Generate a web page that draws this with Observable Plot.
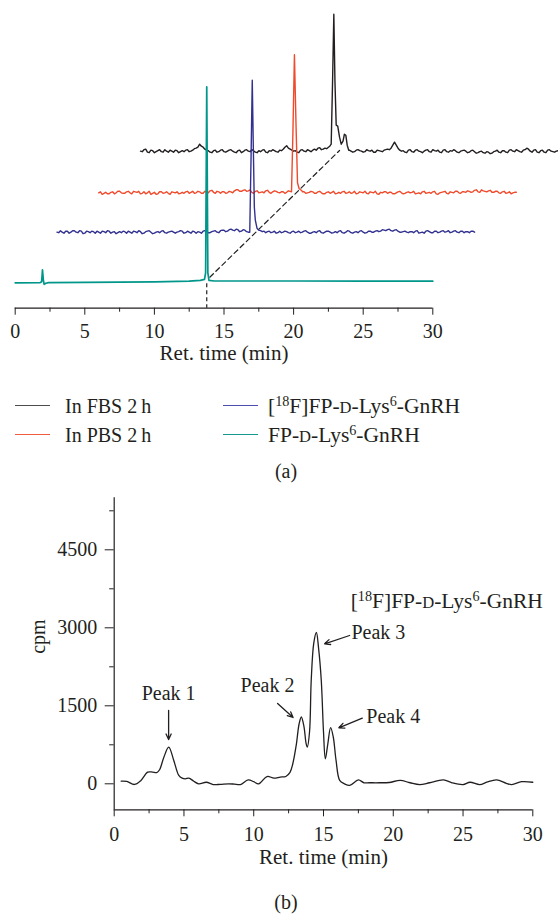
<!DOCTYPE html>
<html><head><meta charset="utf-8">
<script src="https://cdn.jsdelivr.net/npm/d3@7"></script>
<script src="https://cdn.jsdelivr.net/npm/@observablehq/plot@0.6"></script>
<style>
body{margin:0;background:#fff;font-family:"Liberation Serif","Times New Roman",Tinos,"DejaVu Serif",serif;color:#231f20;}
#root{position:relative;width:558px;height:914px;overflow:hidden;}
.pane{position:absolute;left:0;}
.leg{position:absolute;font-size:20px;line-height:24px;white-space:nowrap;}
.cmp{font-size:21.5px;}
.sw{position:absolute;height:0;width:35px;border-top:1.5px solid;}
.sc{font-size:0.77em;}
sup{font-size:0.66em;vertical-align:0.5em;line-height:0;}
.cap{position:absolute;font-size:20px;line-height:24px;width:60px;text-align:center;}
svg text{font-family:"Liberation Serif","Times New Roman",Tinos,"DejaVu Serif",serif;}
</style></head><body><div id="root">
<div id="pa" class="pane" style="top:0"></div>
<div class="sw" style="left:15px;top:405px;border-color:#4d4b4c"></div>
<div class="leg" style="left:65px;top:394px">In FBS 2&#8201;h</div>
<div class="sw" style="left:15px;top:434px;border-color:#f05a3e"></div>
<div class="leg" style="left:65px;top:423px">In PBS 2&#8201;h</div>
<div class="sw" style="left:223px;top:405px;border-color:#4f4dae"></div>
<div class="leg cmp" style="left:268px;top:394px">[<sup>18</sup>F]FP-<span class="sc">D</span>-Lys<sup>6</sup>-GnRH</div>
<div class="sw" style="left:223px;top:434px;border-color:#16998e"></div>
<div class="leg cmp" style="left:268px;top:423px">FP-<span class="sc">D</span>-Lys<sup>6</sup>-GnRH</div>
<div class="cap" style="left:256px;top:459px">(a)</div>
<div id="pb" class="pane" style="top:480px"></div>
<div class="cap" style="left:256px;top:890px">(b)</div>
</div>
<script>
// ---------- Panel (a) data ----------
const seriesNames = ["In FBS 2 h", "In PBS 2 h", "[18F]FP-D-Lys6-GnRH", "FP-D-Lys6-GnRH"];
const seriesColors = ["#231f20", "#ef4a2c", "#32318f", "#00968a"];
const xShift = [9.0, 6.0, 3.0, 0];      // min, stacking offset of each trace
const yShift = [131.6, 90, 50.6, 0];    // a.u., stacking offset of each trace
const sampleStep = 0.25;                // min between baseline samples (mid samples halfway)
const fbsNoise = [0,1.5,-1,1,-1.5,0.5,-0.5,1.5,-1,0,1,-1.5,0.5,1,-0.5,1,3,7,4,1,-1,0.5,-1,1,-0.5,0,1.5,-1,0.5,-1.5,1,0,1.5,-1,0.5,1,-1,0.5,1.5,-0.5,1,2,5.5,2,0,-1,1,0,1.5,-0.5,2,3,1.5,3,4,0,0,0,0,0,1,-1,1,0.5,-1,1.5,0,-1,1,0,1,2,3,9,3,0,-1,1,-0.5,1,0,-1.5,1,-0.5,1.5,0,-1,1,-0.5,0.5,1.5,-1,0,1,-1.5,0.5,-0.5,-1.5,0,-2,-1,-2,0,-1,0.5,-1,1,0,1.5,-0.5,1,3,0,1,-1,0.5,-1,1,0,-1,0.5];
const fbsMid = [-0.5,2,-1.5,0.5,-0.5,1.5,-1,0,1,-1,0.5,-0.5,-0.5,1.5,0,2.5,4,5,2,0.5,-1.5,1,-0.5,1.5,-1,1,0,-1.5,1,-0.5,1.5,-0.5,0.5,-1.5,-0.5,1.5,-1.5,0,0.5,-1,0.5,4,3,1,0.5,-1.5,1.5,-0.5,0.5,1,1,3.5,2,2.5,0,0,0,0,0,0,0,-0.5,1.5,0,-0.5,0.5,1,-1,0.5,-0.5,1.5,1.5,6,6,1,0.5,-1.5,1.5,-1,1.5,-0.5,0,1.5,-1,0.5,1,-1.5,1.5,-1,0,0.5,-1.5,0.5,0,-1,1,-2,-0.5,-1.5,-0.5,-2.5,-0.5,1,-1.5,0.5,-1.5,1.5,-0.5,0.5,-1,1.5,2,-1,1.5,-1.5,1,-1.5,1.5,-0.5,0];
const fbsPeak = [[13.6,5],[13.7,7],[13.8,70],[13.89,137],[13.97,70],[14.06,26],[14.17,25],[14.3,14],[14.42,7],[14.55,10],[14.65,17],[14.75,16],[14.85,6],[14.96,1]];
const pbsNoise = [0,-1.5,0.5,-1,1,0,1.5,-0.5,1,0,1.5,0.5,-1,1,0,-1.5,0.5,-1,1,0,-0.5,1,0,-1,0.5,1,-0.5,1.5,0,1,-0.5,1,2,0.5,1.5,-0.5,1,0,1,2,3,1.5,3,2,0.5,1.5,0,1,2,0.5,1,1.5,0,1,0.5,1.5,0,0,0,1,0,1.5,-0.5,1,0,-1,1,0.5,-1,0.5,1,-0.5,1,0,-1,1,0,-0.5,1,0,-1,0.5,1,-0.5,0.5,-1,1,0,-0.5,1,0.5,-1,0,1,-0.5,0.5,1,-1,0,1,-0.5,1,0,1.5,-0.5,1,2,0.5,2.5,1,3,1.5,2,0.5,1.5,0,1,-0.5,1,0,0.5];
const pbsMid = [1,-0.5,-1,0.5,-1,1.5,0,-0.5,1.5,-1,1,1.5,-0.5,-1,1.5,-0.5,-1.5,1,-0.5,1,-1.5,0.5,1,-0.5,-0.5,1.5,0.5,-0.5,1.5,-0.5,1.5,0,2.5,-0.5,1,1,-0.5,1.5,0,3,1.5,2.5,1.5,3,-0.5,2,0.5,0,2.5,-0.5,2,0.5,1,-0.5,2,0,0,0,1,-0.5,0.5,1,-0.5,1.5,-1,0.5,-0.5,1.5,-0.5,-0.5,1.5,0,-0.5,1.5,-0.5,0.5,1.5,-1,0.5,1.5,-1.5,0,1,0.5,-1,0,1.5,-1,0.5,0,1.5,-0.5,-1,1.5,0,-0.5,1.5,-1.5,0.5,1.5,-1,0.5,1.5,0,1,0.5,1.5,1,3,0.5,2,1,2.5,0.5,1.5,-0.5,1.5,0,-1,0.5];
const pbsPeak = [[13.85,1],[13.95,60],[14.06,138],[14.17,70],[14.28,10],[14.4,4],[14.6,2]];
const radNoise = [0,1.5,-1,1,0,1.5,-0.5,1,-1,0.5,1,-1,0,1,-0.5,1,0,-1.5,0.5,1,-1,0,1,-0.5,0.5,-1,1,0,-1,0.5,1,-0.5,0,1,-1,0.5,1,-0.5,0,1,-1,0,1,0.5,-0.5,1,0,1.5,2,1,3,1.5,2.5,1,2,0,0,0,0,0.5,-0.5,1,0,-1,1,0,0.5,-1,1,0,-0.5,1,0,-1,0.5,1,-0.5,0,1,-1,0.5,1,-0.5,0,1,-1,0.5,1,0,-0.5,1,0,1.5,1,2,2.5,1.5,2,1,0,1,-0.5,0.5,1,-1,0,1,0.5,-0.5,1,0,1.5,0.5,-0.5,1,0,1,-0.5,0.5,1,0];
const radMid = [-0.5,0,1,-1,1.5,0,1.5,-1.5,1,-0.5,0.5,1,-1,0.5,1.5,-1,0.5,-0.5,-0.5,0.5,1,-1,0.5,1.5,-1.5,0.5,1.5,-1.5,0,-0.5,1.5,-1,0.5,0,0,1.5,-1,1,-1,0.5,0.5,-1,1.5,-0.5,0.5,1.5,-0.5,2,0.5,2.5,2,3,0.5,2.5,0.5,0,0,0,1.5,1,0.5,-0.5,1,-0.5,-0.5,1,-0.5,0.5,-0.5,1,0,1.5,-1,0,-0.5,1.5,-1,1,0,-0.5,-0.5,1.5,-1,1.5,-0.5,0,-0.5,1.5,-1,1,0,1,0.5,2.5,1.5,3,1,2.5,0,0.5,0,0.5,-0.5,1.5,-0.5,-1,1.5,-0.5,1,-0.5,1,0,1.5,0,1.5,-0.5,1,0.5,-0.5,1];
const radPeak = [[13.85,0],[13.95,80],[14.03,152],[14.1,90],[14.18,25],[14.25,12],[14.37,4],[14.5,2]];
const stdTrace = [[0,0],[1.8,0.2],[1.9,1],[1.96,13],[2.02,3],[2.08,-1.5],[2.2,-0.5],[2.4,0.2],[5,0.4],[10,1],[12.5,1.6],[13.3,2.5],[13.6,3.5],[13.68,10],[13.76,196],[13.84,10],[13.92,2.5],[14.3,1.8],[20,1.8],[25,1.7],[30,1.6]];
const guideLine = [[13.98,5.6],[23.3,132.3]];
const aMajorX = [0,5,10,15,20,25,30];
const aMinorX = [2.5,7.5,12.5,17.5,22.5,27.5];

// ---------- Panel (b) data ----------
const cpmT = [0.5,0.9,1.45,1.9,2.4,2.75,3.05,3.25,3.56,3.91,4.27,4.63,4.87,5.1,5.35,5.7,6.05,6.6,7.1,7.6,8.2,8.6,9.05,9.6,10.0,10.35,10.95,11.45,11.9,12.3,12.6,12.8,13.05,13.25,13.41,13.6,13.75,13.84,14.0,14.12,14.3,14.49,14.65,14.84,15.0,15.13,15.3,15.51,15.7,15.9,16.16,16.5,16.88,17.5,17.9,18.3,19.0,19.7,20.5,21.2,21.9,22.6,23.6,24.2,25.0,25.5,26.2,26.7,27.4,28.1,28.5,29.2,30.0];
const cpmV = [50,45,-13,60,223,225,217,270,512,704,448,160,108,95,110,50,0,30,-15,-10,0,-5,-15,75,40,0,140,110,130,140,220,385,750,1150,1285,1100,780,705,1000,1990,2700,2910,2600,1990,1000,480,750,1080,900,450,65,0,-30,75,20,20,20,25,65,20,-15,20,75,20,-15,30,-15,30,75,10,-15,40,30];
const peakLabels = ["Peak 1","Peak 2","Peak 3","Peak 4"];
const peakLabelX = [3.9,10.99,18.93,20.0];
const peakLabelY = [1736,1890,2915,1300];
const arrowFrom = [[3.9,1410],[11.71,1544],[16.87,2852],[17.78,1262]];
const arrowTo = [[3.9,852],[12.82,1275],[15.08,2692],[16.1,1077]];
const compoundLabel = "[18F]FP-D-Lys6-GnRH";
const compoundAt = [30.72, 3512];
const bMajorX = [0,5,10,15,20,25,30];
const bMinorX = [2.5,7.5,12.5,17.5,22.5,27.5];
const bMajorY = [0,1500,3000,4500];
const bMinorY = [750,2250,3750,5250];

// ---------- build rows ----------
function trace(k, noise, mid, peaks) {
  const t0 = peaks[0][0], t1 = peaks[peaks.length - 1][0];
  const pts = [];
  noise.forEach((v, i) => {
    pts.push([i * sampleStep, v]);
    if (i < mid.length) pts.push([(i + 0.5) * sampleStep, mid[i]]);
  });
  return pts.filter(([t]) => t < t0 || t > t1)
    .concat(peaks)
    .sort((a, b) => a[0] - b[0])
    .map(([t, v]) => ({series: seriesNames[k], x: t + xShift[k], y: v + yShift[k]}));
}
const noisyRows = [].concat(
  trace(0, fbsNoise, fbsMid, fbsPeak),
  trace(1, pbsNoise, pbsMid, pbsPeak),
  trace(2, radNoise, radMid, radPeak));
const stdRows = stdTrace.map(([t, v]) => ({series: seriesNames[3], x: t + xShift[3], y: v + yShift[3]}));
const guideRows = guideLine.map(([x, y]) => ({x, y}));
const tealPeakT = stdTrace.reduce((a, b) => (b[1] > a[1] ? b : a))[0];
const aAxisY = -25.4;
const plain = d => String(d);

const serif = "'Liberation Serif','Times New Roman',Tinos,'DejaVu Serif',serif";
const fontStyle = {fontFamily: serif, fontSize: "20px", color: "#231f20", background: "transparent", overflow: "visible"};

const plotA = Plot.plot({
  width: 558, height: 372,
  marginTop: 0, marginBottom: 64.3, marginLeft: 14.7, marginRight: 0,
  x: {domain: [0, 39.03]},
  y: {domain: [aAxisY, 282.3], axis: null},
  color: {domain: seriesNames, range: seriesColors},
  style: fontStyle,
  marks: [
    Plot.line(guideRows, {x: "x", y: "y", stroke: "#231f20", strokeWidth: 1.2, strokeDasharray: "5 3.5"}),
    Plot.ruleX([tealPeakT], {y1: -1, y2: aAxisY, stroke: "#231f20", strokeWidth: 1.2, strokeDasharray: "4 3"}),
    Plot.line(noisyRows, {x: "x", y: "y", z: "series", stroke: "series", strokeWidth: 1.4}),
    Plot.line(stdRows, {x: "x", y: "y", stroke: "series", strokeWidth: 1.7}),
    Plot.ruleY([aAxisY], {x1: 0, x2: 30, stroke: "#231f20", strokeWidth: 1.2}),
    Plot.axisX({ticks: aMajorX, tickSize: 7, tickPadding: 8.4, fontSize: 20, tickFormat: plain, label: null}),
    Plot.axisX({ticks: aMinorX, tickSize: 4, tickFormat: () => "", label: null}),
    Plot.text(["Ret. time (min)"], {x: 15, frameAnchor: "bottom", dy: 52, fontSize: 21})
  ]
});
document.getElementById("pa").appendChild(plotA);

const cpmRows = cpmT.map((t, i) => ({t, v: cpmV[i]}));
const labelRows = peakLabels.map((s, i) => ({s, x: peakLabelX[i], y: peakLabelY[i]}));
const arrowRows = arrowFrom.map((f, i) => ({x1: f[0], y1: f[1], x2: arrowTo[i][0], y2: arrowTo[i][1]}));

const plotB = Plot.plot({
  width: 558, height: 400,
  marginTop: 17.3, marginBottom: 70.7, marginLeft: 113.7, marginRight: 25.7,
  x: {domain: [0, 30]},
  y: {domain: [-500, 5500]},
  style: fontStyle,
  marks: [
    Plot.ruleX([0], {stroke: "#231f20", strokeWidth: 1.2}),
    Plot.ruleY([-500], {stroke: "#231f20", strokeWidth: 1.2}),
    Plot.axisX({ticks: bMajorX, tickSize: 7, tickPadding: 10, fontSize: 20, tickFormat: plain, label: null}),
    Plot.axisX({ticks: bMinorX, tickSize: 4, tickFormat: () => "", label: null}),
    Plot.axisY({ticks: bMajorY, tickSize: 9, tickPadding: 8, fontSize: 20, tickFormat: plain, label: null}),
    Plot.axisY({ticks: bMinorY, tickSize: 4.5, tickFormat: () => "", label: null}),
    Plot.line(cpmRows, {x: "t", y: "v", curve: "catmull-rom", stroke: "#231f20", strokeWidth: 1.3}),
    Plot.arrow(arrowRows, {x1: "x1", y1: "y1", x2: "x2", y2: "y2", stroke: "#231f20", strokeWidth: 1.3, headLength: 7, headAngle: 50}),
    Plot.text(labelRows, {x: "x", y: "y", text: "s", fontSize: 20, fill: "#231f20"}),
    Plot.text([compoundLabel], {x: compoundAt[0], y: compoundAt[1], textAnchor: "end", fontSize: 21.5, fill: "#231f20"}),
    Plot.text(["Ret. time (min)"], {x: 15, frameAnchor: "bottom", dy: 53.7, fontSize: 21}),
    Plot.text(["cpm"], {frameAnchor: "left", dx: -75.7, rotate: -90, fontSize: 20})
  ]
});
document.getElementById("pb").appendChild(plotB);

// rich text: superscripts and small-cap D
d3.select(plotB).selectAll("text").filter(function () { return this.textContent === compoundLabel; })
  .each(function () {
    const t = d3.select(this);
    t.text(null);
    const parts = [["[", 0, 21.5], ["18", -7.5, 14.2], ["F]FP-", 7.5, 21.5], ["D", 0, 16.6], ["-Lys", 0, 21.5], ["6", -7.5, 14.2], ["-GnRH", 7.5, 21.5]];
    parts.forEach(([s, dy, fs]) => t.append("tspan").attr("dy", dy).attr("font-size", fs).text(s));
  });
</script>
</body></html>
